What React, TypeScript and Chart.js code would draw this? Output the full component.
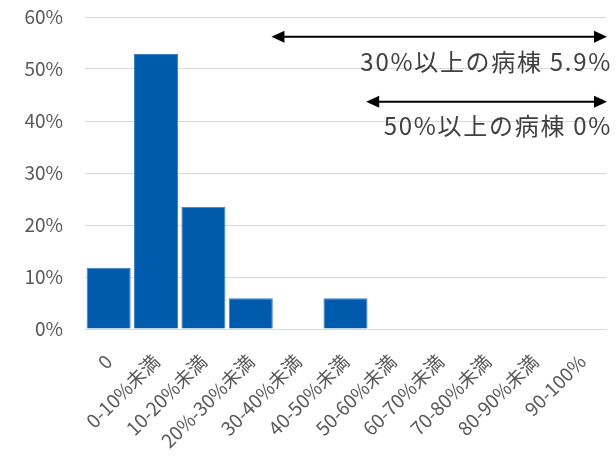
import React, { useEffect, useRef } from "react";
import { Chart, registerables } from "chart.js";

Chart.register(...registerables);

const categories = [
  "0",
  "0-10%未満",
  "10-20%未満",
  "20%-30%未満",
  "30-40%未満",
  "40-50%未満",
  "50-60%未満",
  "60-70%未満",
  "70-80%未満",
  "80-90%未満",
  "90-100%",
];
const shares = [11.8, 52.9, 23.5, 5.9, 0, 5.9, 0, 0, 0, 0, 0];
const yTicks = [0, 10, 20, 30, 40, 50, 60];

const noteTexts = ["30%以上の病棟 5.9%", "50%以上の病棟 0%"];
const noteStart = [3.5, 5.5];
const noteEnd = [10.5, 10.5];
const noteArrowY = [56.2, 43.7];
const noteTextY = [51.3, 39.0];

const FONT = "'Noto Sans CJK JP', 'Noto Sans', sans-serif";

const arrowPlugin = {
  id: "arrowNotes",
  afterDatasetsDraw(chart: any) {
    const { ctx, scales } = chart;
    const x = scales.x;
    const y = scales.y;
    ctx.save();
    for (let i = 0; i < noteTexts.length; i++) {
      const x1 = x.getPixelForValue(noteStart[i]) - 3;
      const x2 = x.getPixelForValue(noteEnd[i]) + 1;
      const ya = y.getPixelForValue(noteArrowY[i]);
      const head = 13;
      const half = 6;
      ctx.strokeStyle = "#000";
      ctx.fillStyle = "#000";
      ctx.lineWidth = 2;
      ctx.beginPath();
      ctx.moveTo(x1 + head - 1, ya);
      ctx.lineTo(x2 - head + 1, ya);
      ctx.stroke();
      ctx.beginPath();
      ctx.moveTo(x1, ya);
      ctx.lineTo(x1 + head, ya - half);
      ctx.lineTo(x1 + head, ya + half);
      ctx.closePath();
      ctx.fill();
      ctx.beginPath();
      ctx.moveTo(x2, ya);
      ctx.lineTo(x2 - head, ya - half);
      ctx.lineTo(x2 - head, ya + half);
      ctx.closePath();
      ctx.fill();
      ctx.font = `24px ${FONT}`;
      (ctx as any).letterSpacing = "1.7px";
      ctx.fillStyle = "#404040";
      ctx.textAlign = "right";
      ctx.textBaseline = "middle";
      ctx.fillText(noteTexts[i], x2 + 5, y.getPixelForValue(noteTextY[i]));
      (ctx as any).letterSpacing = "0px";
    }
    ctx.restore();
  },
};

export default function App() {
  const ref = useRef<HTMLCanvasElement | null>(null);
  useEffect(() => {
    if (!ref.current) return;
    const chart = new Chart(ref.current, {
      type: "bar",
      data: {
        labels: categories,
        datasets: [
          {
            data: shares,
            backgroundColor: "#005BAC",
            borderColor: "#3f7fc4",
            borderWidth: 1,
            barPercentage: 0.93,
            categoryPercentage: 1,
          },
        ],
      },
      options: {
        animation: false,
        responsive: false,
        maintainAspectRatio: false,
        layout: { padding: { top: 17, right: 10, left: 0, bottom: 0 } },
        plugins: { legend: { display: false }, tooltip: { enabled: false } },
        scales: {
          x: {
            grid: { display: false, drawTicks: false },
            border: { display: true, color: "#d9d9d9", width: 1 },
            ticks: {
              autoSkip: false,
              minRotation: 45,
              maxRotation: 45,
              padding: 21,
              color: "#595959",
              font: { family: FONT, size: 19 },
            },
            afterFit(scale: any) {
              scale.height = 144;
              scale.paddingLeft = 0;
              scale.paddingRight = 0;
            },
          },
          y: {
            min: 0,
            max: 60,
            afterBuildTicks(scale: any) {
              scale.ticks = yTicks.map((v) => ({ value: v }));
            },
            grid: { color: "#d9d9d9", drawTicks: false, lineWidth: 1 },
            border: { display: false },
            ticks: {
              padding: 22,
              color: "#595959",
              font: { family: FONT, size: 19 },
              callback: (v: any) => `${v}%`,
            },
            afterFit(scale: any) {
              scale.width = 85;
              scale.paddingTop = 0;
              scale.paddingBottom = 0;
            },
          },
        },
      },
      plugins: [arrowPlugin],
    });
    return () => chart.destroy();
  }, []);
  return (
    <div style={{ position: "fixed", left: 0, top: 0, width: 616, height: 473, background: "#fff" }}>
      <canvas ref={ref} width={616} height={473} style={{ width: 616, height: 473 }} />
    </div>
  );
}
